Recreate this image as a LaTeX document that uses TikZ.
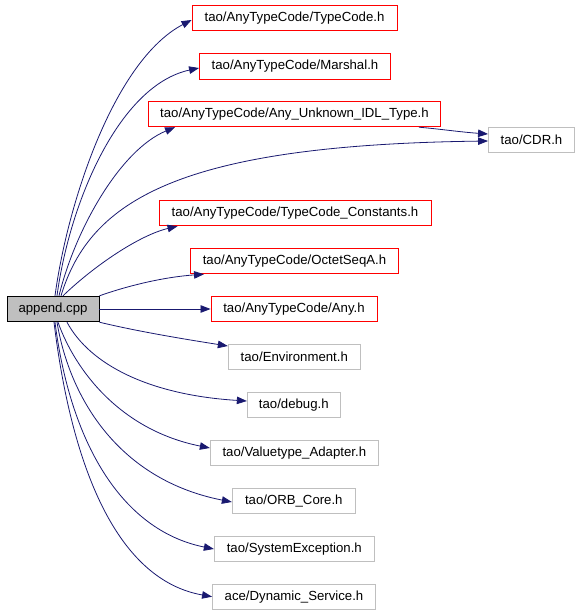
\documentclass[tikz,border=0pt]{standalone}
\usepackage{fontspec}
\setmainfont{Liberation Sans}
\usetikzlibrary{arrows.meta}
\definecolor{edgeblue}{RGB}{25,25,112}
\definecolor{boxgray}{RGB}{191,191,191}
\definecolor{boxred}{RGB}{255,0,0}
\begin{document}
\begin{tikzpicture}[x=1pt,y=-1pt,
  base/.style={rectangle, inner sep=0pt, minimum height=25.5pt, font=\fontsize{13.2}{15}\selectfont, line width=0.9pt},
  redbox/.style={base, draw=boxred},
  graybox/.style={base, draw=boxgray},
  srcbox/.style={base, draw=black, fill=boxgray},
  edge/.style={draw=edgeblue, line width=0.8pt, -{Triangle[length=10pt,width=7.5pt]}, edgeblue}
]
\useasboundingbox (0,0) rectangle (579,613);
\node[srcbox, minimum width=92pt] (app) at (53,309) {append.cpp};
\node[redbox, minimum width=205pt] (tc) at (294.5,18) {tao/AnyTypeCode/TypeCode.h};
\node[redbox, minimum width=191pt] (mar) at (295,66.5) {tao/AnyTypeCode/Marshal.h};
\node[redbox, minimum width=292pt] (unk) at (294.5,114) {tao/AnyTypeCode/Any\_Unknown\_IDL\_Type.h};
\node[graybox, minimum width=86pt] (cdr) at (531.5,140) {tao/CDR.h};
\node[redbox, minimum width=272pt] (tcc) at (295,213) {tao/AnyTypeCode/TypeCode\_Constants.h};
\node[redbox, minimum width=208pt] (oct) at (294.5,261) {tao/AnyTypeCode/OctetSeqA.h};
\node[redbox, minimum width=166pt] (any) at (294,309) {tao/AnyTypeCode/Any.h};
\node[graybox, minimum width=132pt] (env) at (294.3,357) {tao/Environment.h};
\node[graybox, minimum width=93pt] (dbg) at (293.8,405) {tao/debug.h};
\node[graybox, minimum width=168pt] (vt) at (294.3,453) {tao/Valuetype\_Adapter.h};
\node[graybox, minimum width=123pt] (orb) at (293.8,501) {tao/ORB\_Core.h};
\node[graybox, minimum width=160pt] (sys) at (294.3,549) {tao/SystemException.h};
\node[graybox, minimum width=163pt] (dyn) at (294,596.7) {ace/Dynamic\_Service.h};

\draw[edge] ([xshift=2pt]app.north) .. controls (68,200) and (115,60) .. ([yshift=-2pt]tc.west);
\draw[edge] ([xshift=4pt]app.north) .. controls (70,200) and (120,85) .. ([yshift=-1.5pt]mar.west);
\draw[edge] ([xshift=6pt]app.north) .. controls (75,230) and (120,150) .. ([xshift=27pt]unk.south west);
\draw[edge] ([xshift=8pt]app.north) .. controls (90,200) and (180,145) .. ([yshift=-1pt]cdr.west);
\draw[edge] ([xshift=-22pt]unk.south east) .. controls (440,129) and (460,132) .. ([yshift=6pt]cdr.west);
\draw[edge] ([xshift=10pt]app.north) .. controls (95,265) and (140,235) .. ([xshift=19pt]tcc.south west);
\draw[edge] (app.north east) .. controls (130,285) and (165,277) .. ([xshift=14pt]oct.south west);
\draw[edge] (app.east) -- (any.west);
\draw[edge] (app.south east) .. controls (140,332) and (190,340) .. ([yshift=11pt]env.west);
\draw[edge] ([xshift=14pt]app.south) .. controls (90,365) and (150,395) .. ([yshift=4pt]dbg.west);
\draw[edge] ([xshift=5pt]app.south) .. controls (75,370) and (120,430) .. ([yshift=5pt]vt.west);
\draw[edge] ([xshift=4pt]app.south) .. controls (70,400) and (120,480) .. ([yshift=-1pt]orb.west);
\draw[edge] ([xshift=2pt]app.south) .. controls (70,440) and (120,530) .. (sys.west);
\draw[edge] ([xshift=1pt]app.south) .. controls (72,470) and (118,580) .. (dyn.west);
\end{tikzpicture}
\end{document}
